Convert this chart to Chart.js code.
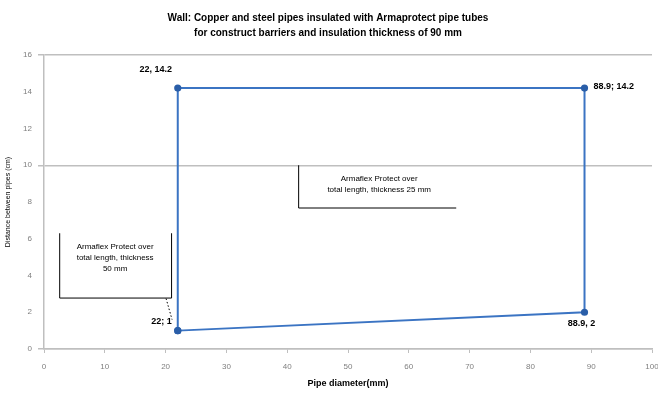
<!DOCTYPE html>
<html>
<head>
<meta charset="utf-8">
<script src="https://cdn.jsdelivr.net/npm/chart.js@4"></script>
<style>
  html, body { margin: 0; padding: 0; background: #fff; }
  #wrap { width: 658px; height: 398px; }
</style>
</head>
<body>
<div id="wrap"><canvas id="chart"></canvas></div>
<script>
// data
const pipeDiameter = [22, 22, 88.9, 88.9, 22];
const sealValue = [1, 14.2, 14.2, 2, 1];
const pointLabels = ["22; 1", "22, 14.2", "88.9; 14.2", "88.9, 2", null];
const titleLines = [
    "Wall: Copper and steel pipes insulated with Armaprotect pipe tubes",
    "for construct barriers and insulation thickness of 90 mm"
];
const noteInside = ["Armaflex Protect over", "total length, thickness 25 mm"];
const noteOutside = ["Armaflex Protect over", "total length, thickness", "50 mm"];

const FONT = "'Liberation Sans', Arial, sans-serif";
const gridGray = '#bfbfbf';

// labels next to the points + the two callout boxes
const notesPlugin = {
    id: 'notes',
    afterDatasetsDraw(chart) {
        const ctx = chart.ctx;
        const pts = chart.getDatasetMeta(0).data;
        const x = chart.scales.x, y = chart.scales.y;
        ctx.save();
        ctx.font = "bold 9px " + FONT;
        ctx.fillStyle = '#000';
        ctx.textBaseline = 'middle';
        // label placements: left, above-left, right, below
        const place = [
            { dx: -6, dy: -9, align: 'right' },
            { dx: -22, dy: -19, align: 'center' },
            { dx: 9, dy: -2, align: 'left' },
            { dx: -3, dy: 11, align: 'center' }
        ];
        pointLabels.forEach((txt, i) => {
            if (!txt) return;
            ctx.textAlign = place[i].align;
            ctx.fillText(txt, pts[i].x + place[i].dx, pts[i].y + place[i].dy);
        });

        // callout inside the polygon
        let l = x.getPixelForValue(41.8), r = x.getPixelForValue(67.8);
        let t = y.getPixelForValue(10), b = y.getPixelForValue(7.7);
        ctx.strokeStyle = '#000';
        ctx.lineWidth = 1;
        ctx.beginPath();
        ctx.moveTo(l + 0.5, t);
        ctx.lineTo(l + 0.5, b + 0.5);
        ctx.lineTo(r, b + 0.5);
        ctx.stroke();
        ctx.font = "8px " + FONT;
        ctx.textAlign = 'center';
        noteInside.forEach((s, i) => ctx.fillText(s, (l + r) / 2 + 2, t + 14 + i * 11));

        // callout outside, left of the polygon
        l = x.getPixelForValue(2.5); r = x.getPixelForValue(20.9);
        t = y.getPixelForValue(6.3); b = y.getPixelForValue(2.8);
        ctx.beginPath();
        ctx.moveTo(l + 0.5, t);
        ctx.lineTo(l + 0.5, b + 0.5);
        ctx.lineTo(r + 0.5, b + 0.5);
        ctx.lineTo(r + 0.5, t);
        ctx.stroke();
        noteOutside.forEach((s, i) => ctx.fillText(s, (l + r) / 2, t + 14 + i * 11));
        // dotted leader to the (22; 1) label
        ctx.setLineDash([1.5, 2]);
        ctx.beginPath();
        ctx.moveTo(r - 5, b + 1);
        ctx.lineTo(r + 1, y.getPixelForValue(1.6));
        ctx.stroke();
        ctx.restore();
    }
};

new Chart(document.getElementById('chart'), {
    type: 'scatter',
    data: {
        datasets: [{
            data: pipeDiameter.map((v, i) => ({ x: v, y: sealValue[i] })),
            showLine: true,
            borderColor: '#3b74c3',
            borderWidth: 2,
            pointRadius: 2.6,
            pointBackgroundColor: '#2a5ea8',
            pointBorderColor: '#2a5ea8',
            tension: 0
        }]
    },
    options: {
        responsive: true,
        maintainAspectRatio: false,
        animation: false,
        layout: { padding: { left: 4, right: 6, top: 0, bottom: 0 } },
        plugins: {
            legend: { display: false },
            tooltip: { enabled: false },
            title: {
                display: true,
                text: titleLines,
                color: '#000',
                font: { family: FONT, size: 10, weight: 'bold', lineHeight: 1.45 },
                padding: { top: 11, bottom: 15 }
            }
        },
        scales: {
            x: {
                type: 'linear',
                min: 0, max: 100,
                ticks: { stepSize: 10, color: '#7f7f7f', font: { family: FONT, size: 8 }, padding: 9 },
                grid: { drawOnChartArea: false, drawTicks: true, tickLength: 4, color: gridGray },
                border: { color: gridGray, width: 1.5 },
                title: { display: true, text: 'Pipe diameter(mm)', color: '#000',
                    font: { family: FONT, size: 9, weight: 'bold' }, padding: { top: 4, bottom: 9 } },
                afterFit(s) { s.paddingRight = 0; s.paddingLeft = 0; s.height = 49; }
            },
            y: {
                type: 'linear',
                min: 0, max: 16,
                ticks: { stepSize: 2, color: '#7f7f7f', font: { family: FONT, size: 8 }, padding: 6 },
                grid: {
                    tickLength: 6,
                    lineWidth: 1.5,
                    color: c => (c.tick && (c.tick.value === 10 || c.tick.value === 16 || c.tick.value === 0)) ? gridGray : 'rgba(0,0,0,0)'
                },
                border: { color: gridGray, width: 1.5 },
                title: { display: true, text: 'Distance between pipes (cm)', color: '#000',
                    font: { family: FONT, size: 7 }, padding: 0 },
                afterFit(s) { s.width = 40; }
            }
        }
    },
    plugins: [notesPlugin]
});
</script>
</body>
</html>
